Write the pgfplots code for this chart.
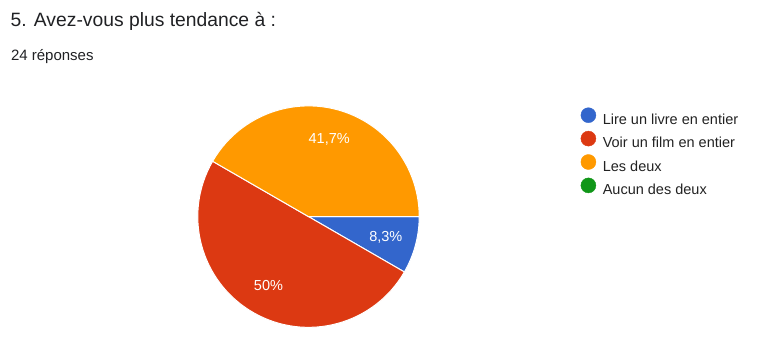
\documentclass[border=0pt]{standalone}
\usepackage{pgfplots}
\usepackage{pgfplotstable}
\pgfplotsset{compat=1.18}
\usepackage{fontspec}
\setmainfont{Liberation Sans}
\definecolor{gblue}{HTML}{3366CC}
\definecolor{gred}{HTML}{DC3912}
\definecolor{gorange}{HTML}{FF9900}
\definecolor{ggreen}{HTML}{109618}
\definecolor{gtext}{HTML}{202124}
\definecolor{gleg}{HTML}{222222}

\pgfplotstableread{
count
2
12
10
0
}\datatable

\begin{document}
\begin{tikzpicture}
\begin{axis}[
  width=759pt, height=333pt, scale only axis,
  xmin=0, xmax=759, ymin=0, ymax=333, y dir=reverse,
  hide axis, clip=false,
  legend style={at={(axis cs:580.5,107.3)}, anchor=north west, draw=none, fill=none,
    inner sep=0pt, font=\fontsize{14.5}{14.5}\selectfont\color{gleg},
    row sep=3.7pt, column sep=0pt,
    nodes={inner sep=0pt, text height=12pt, text depth=3pt}},
  legend cell align=left,
  legend image code/.code={\fill[#1] (7.5pt,4.5pt) circle (7.5pt); \path (21.7pt,0pt);},
]
\path (rel axis cs:0,0) rectangle (rel axis cs:1,1);
\addlegendimage{gblue}
\addlegendentry{Lire un livre en entier}
\addlegendimage{gred}
\addlegendentry{Voir un film en entier}
\addlegendimage{gorange}
\addlegendentry{Les deux}
\addlegendimage{ggreen}
\addlegendentry{Aucun des deux}

\pgfplotsextra{
  \gdef\total{0}
  \foreach \i in {0,...,3}{
    \pgfplotstablegetelem{\i}{count}\of\datatable
    \pgfmathsetmacro\tmp{\total+\pgfplotsretval}
    \xdef\total{\tmp}
  }
  \gdef\startang{0}
  \foreach \i/\col in {0/gblue,1/gred,2/gorange,3/ggreen}{
    \pgfplotstablegetelem{\i}{count}\of\datatable
    \pgfmathsetmacro\sweep{360*\pgfplotsretval/\total}
    \pgfmathsetmacro\pct{100*\pgfplotsretval/\total}
    \pgfmathsetmacro\endang{\startang-\sweep}
    \pgfmathsetmacro\midang{(\startang+\endang)/2}
    \ifdim\sweep pt>0pt
      \fill[\col, draw=white, line width=1pt] (axis cs:308.5,216.6) -- ++(\startang:110.7pt)
        arc[start angle=\startang, end angle=\endang, radius=110.7pt] -- cycle;
      \path (axis cs:308.5,216.6) ++(\midang:80pt) node[text=white, font=\fontsize{14.5}{14.5}\selectfont]
        {\pgfmathprintnumber[fixed, precision=1, use comma, assume math mode=true]{\pct}\%};
    \fi
    \xdef\startang{\endang}
  }
}

\node[anchor=base west, inner sep=0pt, text=gtext, font=\fontsize{19.3}{19.3}\selectfont]
  at (axis cs:10.5,26.7) {5. Avez-vous plus tendance à :};
\node[anchor=base west, inner sep=0pt, text=gtext, font=\fontsize{15}{15}\selectfont]
  at (axis cs:10.8,60) {24 réponses};
\end{axis}
\end{tikzpicture}
\end{document}
